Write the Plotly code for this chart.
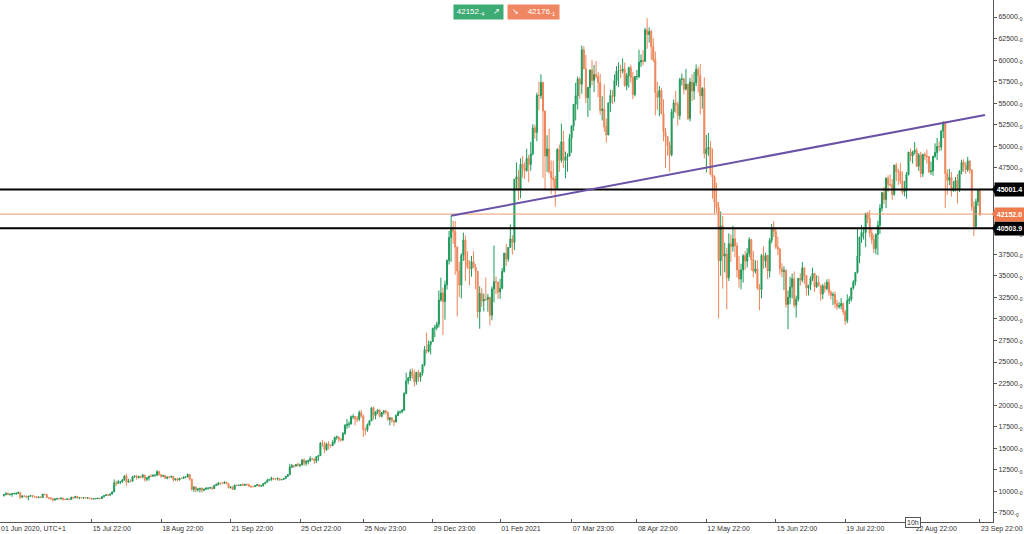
import plotly.graph_objects as go
import pandas as pd

# ---------------- data (daily candles) ----------------
first_open = 9520
close = [
    # Jun 2020 (from Jun 3)
    9660, 9800, 9620, 9670, 9750, 9770, 9780, 9870, 9320, 9480, 9470, 9340, 9430, 9530, 9450, 9380, 9300, 9360,
    9290, 9690, 9630, 9290, 9260, 9160, 9000, 9120, 9190, 9140,
    # Jul 2020
    9230, 9090, 9060, 9130, 9070, 9340, 9250, 9430, 9230, 9290, 9240, 9300, 9240, 9250, 9200, 9130, 9150, 9170,
    9210, 9160, 9390, 9530, 9610, 9550, 9710, 9940, 10980, 10940, 11100, 11110, 11350,
    # Aug 2020
    11800, 11070, 11230, 11190, 11740, 11760, 11600, 11750, 11680, 11880, 11410, 11580, 11780, 11770, 11870, 11910,
    12280, 11950, 11760, 11860, 11520, 11680, 11650, 11750, 11330, 11460, 11320, 11540, 11510, 11680, 11680,
    # Sep 2020
    11970, 11420, 10250, 10510, 10170, 10280, 10370, 10130, 10240, 10360, 10400, 10440, 10320, 10680, 10790, 10950,
    10940, 10930, 11090, 10920, 10420, 10530, 10240, 10740, 10690, 10730, 10770, 10700, 10840, 10780,
    # Oct 2020
    10620, 10570, 10550, 10670, 10790, 10600, 10670, 10920, 11060, 11300, 11380, 11540, 11430, 11430, 11510, 11330,
    11370, 11490, 11740, 11920, 12810, 12990, 12940, 13130, 13030, 13060, 13640, 13280, 13460, 13560, 13800,
    # Nov 2020
    13760, 13550, 14030, 14150, 15590, 15580, 14830, 15480, 15330, 15300, 15700, 16280, 16320, 16070, 15960, 16720,
    17650, 17780, 17820, 18660, 18690, 18420, 18370, 19150, 18730, 17150, 17140, 17720, 18180, 19700,
    # Dec 2020
    18800, 19210, 19440, 18700, 19150, 19360, 19170, 18320, 18550, 18250, 18040, 18800, 19170, 19270, 19440, 21360,
    22800, 23140, 23870, 23480, 22740, 23820, 23240, 23730, 24690, 26440, 26250, 27030, 27370, 28880, 28990,
    # Jan 2021
    29370, 32190, 33000, 31990, 33950, 36770, 39430, 40580, 40150, 38340, 35560, 33920, 37390, 39150, 36820, 36030,
    35820, 36630, 36010, 35530, 30830, 32940, 32080, 32260, 32250, 32510, 30430, 33470, 34320, 34280, 33110,
    # Feb 2021
    33540, 35510, 37620, 36940, 38290, 39260, 38870, 46200, 46480, 44920, 47930, 47500, 47200, 48590, 47910, 49130,
    52150, 51620, 55920, 55890, 57410, 54090, 48880, 49710, 47090, 46340, 46190, 45140,
    # Mar 2021
    49630, 48380, 50540, 48370, 48760, 48880, 50970, 52390, 54880, 55860, 57800, 57220, 61190, 59000, 55640, 56830,
    58870, 57650, 58320, 58100, 57390, 54160, 54340, 52300, 51320, 55040, 55890, 55780, 57600, 58760, 58800,
    # Apr 2021
    58730, 58980, 57060, 58200, 59130, 57990, 56010, 58090, 58100, 59770, 59960, 59840, 63500, 62970, 63310, 61580,
    60070, 56250, 55700, 56480, 53810, 51730, 51140, 50100, 49020, 54020, 55030, 54840, 53560, 57750,
    # May 2021
    57830, 56630, 57210, 53240, 57470, 56430, 57370, 58930, 58240, 55860, 56700, 49150, 49720, 49880, 46760, 46450,
    43540, 42910, 36730, 40780, 37280, 37530, 34770, 38710, 38400, 39300, 38440, 35700, 34620, 35680, 37330,
    # Jun 2021
    36690, 37570, 39190, 36890, 35520, 35800, 33550, 33400, 37350, 36690, 37340, 35550, 39100, 40520, 40140, 38350,
    38090, 35820, 35480, 35600, 31680, 32500, 33690, 34660, 31590, 32280, 34700, 34490, 35910, 35040,
    # Jul 2021
    33570, 33900, 34680, 35290, 33730, 34220, 33860, 32880, 33820, 33510, 34260, 33090, 32730, 32820, 31780, 31420,
    31520, 31780, 30840, 29800, 32130, 32300, 33590, 34290, 35380, 37290, 39460, 40030, 40030, 42230, 41630,
    # Aug 2021
    39970, 39200, 38150, 39750, 40870, 42830, 44640, 43820, 46290, 45590, 45550, 44430, 47830, 47100, 47050, 45990,
    44700, 44800, 46720, 49340, 48900, 49320, 49550, 47700, 48990, 46850, 49070, 48900, 48810, 47050, 47150,
    # Sep 2021
    48850, 49280, 49990, 49920, 51780, 52700, 46860, 46080, 46390, 44850, 45170, 46060, 44960, 47130, 48150, 47760,
    47300, 48310, 47260, 43010, 40700, 43580, 44900, 42152,
]
high = [
    9680, 9860, 9850, 9730, 9800, 9780, 9880, 9990, 9940, 9530, 9490, 9490, 9490, 9580, 9560, 9480, 9440, 9390,
    9420, 9690, 9700, 9670, 9320, 9290, 9190, 9190, 9230, 9200,
    9290, 9260, 9130, 9180, 9140, 9360, 9360, 9450, 9440, 9300, 9300, 9340, 9340, 9280, 9270, 9210, 9190, 9200,
    9240, 9220, 9420, 9540, 9650, 9640, 9730, 10000, 11390, 11240, 11340, 11170, 11420,
    11860, 12060, 11470, 11400, 11780, 11900, 11920, 11800, 11800, 12050, 11940, 11670, 11790, 11990, 11970, 11950,
    12470, 12400, 12020, 11880, 11880, 11690, 11710, 11810, 11760, 11530, 11590, 11550, 11580, 11720, 11780,
    12070, 11980, 11490, 10630, 10560, 10360, 10400, 10440, 10350, 10500, 10400, 10480, 10580, 10770, 10930, 11100,
    11030, 11030, 11170, 11060, 10990, 10560, 10530, 10770, 10760, 10780, 10800, 10950, 10860, 10860,
    10920, 10660, 10600, 10700, 10800, 10800, 10690, 10950, 11110, 11480, 11440, 11710, 11560, 11550, 11620, 11540,
    11400, 11490, 11820, 12030, 13210, 13170, 13020, 13160, 13340, 13220, 13760, 13850, 13640, 13680, 14070,
    13900, 13820, 14050, 14240, 15740, 15960, 15770, 15650, 15830, 15460, 15940, 16320, 16480, 16330, 16130, 16880,
    17800, 18390, 18120, 18800, 18950, 18740, 18750, 19390, 19460, 18900, 17420, 17880, 18260, 19750,
    19860, 19300, 19540, 19490, 19160, 19400, 19410, 19280, 18630, 18560, 18270, 18950, 19390, 19330, 19540, 21500,
    23780, 23280, 24170, 24270, 24100, 23800, 24060, 23790, 24780, 26860, 28400, 27500, 27390, 28990, 29300,
    29680, 33300, 34780, 33620, 34440, 36900, 40200, 41950, 41370, 41350, 38340, 36600, 37600, 40000, 39660, 37850,
    36800, 37300, 37850, 36390, 35530, 33780, 33550, 32940, 34800, 32900, 32520, 33780, 38500, 34900, 34290,
    34640, 35900, 37660, 38700, 38310, 40950, 39700, 46200, 48140, 47260, 48630, 48880, 48150, 49710, 49000, 50530,
    52580, 52500, 56230, 57500, 58350, 57500, 54160, 51300, 52040, 48370, 48300, 46600,
    49790, 50200, 52640, 51800, 49400, 49200, 51430, 52400, 54900, 57390, 58100, 58000, 61700, 61600, 60600, 56900,
    58900, 60000, 59440, 59880, 58600, 58420, 55830, 57200, 53230, 55070, 56570, 56560, 58340, 59300, 59750,
    59460, 60200, 59700, 58500, 59240, 59480, 58650, 58150, 58880, 61200, 60660, 61150, 63740, 64860, 63800, 63520,
    62550, 61000, 57500, 57000, 56750, 55450, 52130, 51160, 50560, 54360, 55450, 56440, 55200, 57940,
    58450, 57940, 58980, 57230, 57940, 58360, 58650, 59500, 59230, 59550, 56870, 58000, 51330, 51560, 50640, 49750,
    46640, 45800, 43550, 42450, 41940, 38830, 38250, 39920, 39770, 40800, 40400, 38860, 37300, 36400, 37500,
    37890, 38200, 39480, 39290, 37900, 36790, 36800, 34070, 37530, 38400, 37690, 37440, 39380, 41000, 41330, 40500,
    39540, 38200, 36450, 36100, 35750, 33300, 34880, 35250, 35500, 32700, 34740, 35300, 36600, 36000,
    35040, 33940, 34950, 35950, 35290, 35050, 35000, 33900, 34070, 34250, 34590, 34670, 33330, 33100, 33190, 32230,
    31950, 32410, 31880, 31060, 32850, 32600, 33620, 34490, 35400, 40550, 39540, 40900, 40640, 42300, 42400,
    42600, 40420, 39780, 39950, 41400, 43300, 44700, 45310, 46450, 46650, 46740, 46220, 47850, 48100, 47390, 48050,
    47100, 46000, 47030, 49350, 49760, 49490, 50500, 49850, 49230, 49370, 49150, 49300, 49630, 48900, 48250,
    48900, 50350, 51000, 50560, 51900, 52920, 52900, 47350, 47400, 47030, 45970, 46450, 46780, 47250, 48450, 48500,
    48150, 48800, 48370, 47330, 43620, 43950, 44960, 45100,
]
low = [
    9400, 9530, 9580, 9530, 9380, 9630, 9570, 9690, 9120, 9260, 9350, 9250, 8980, 9370, 9260, 9280, 9200, 9200,
    9280, 9280, 9600, 9240, 9070, 9040, 8840, 8950, 9040, 9090,
    9080, 8940, 9030, 9050, 8970, 9060, 9210, 9240, 9180, 9110, 9190, 9160, 9200, 9130, 9170, 9010, 9090, 9130,
    9110, 9130, 9150, 9300, 9460, 9500, 9540, 9670, 9930, 10610, 10890, 10850, 10980,
    11230, 10660, 11000, 11020, 11100, 11580, 11360, 11530, 11520, 11520, 11140, 11180, 11270, 11660, 11700, 11690,
    11780, 11830, 11570, 11670, 11500, 11410, 11520, 11590, 11150, 11270, 11140, 11290, 11440, 11470, 11580,
    11640, 11250, 10080, 9950, 9890, 9980, 9880, 9880, 10010, 10200, 10210, 10300, 10220, 10280, 10630, 10700,
    10750, 10820, 10900, 10810, 10360, 10350, 10150, 10210, 10600, 10640, 10620, 10640, 10650, 10690,
    10530, 10390, 10520, 10530, 10630, 10530, 10570, 10580, 10830, 11060, 11260, 11230, 11300, 11310, 11270, 11220,
    11330, 11350, 11430, 11690, 11900, 12730, 12730, 12900, 12890, 12800, 13050, 12950, 12990, 13140, 13430,
    13640, 13210, 13290, 13530, 14100, 15170, 14420, 14710, 14850, 15080, 15280, 15470, 15990, 15710, 15790, 15870,
    16560, 17250, 17380, 17770, 18370, 17670, 18030, 18160, 18540, 16330, 16520, 16900, 17600, 18180,
    18330, 18350, 18950, 18600, 18600, 18920, 18910, 18250, 17650, 17950, 17570, 18020, 18750, 19000, 19050, 19300,
    21260, 22400, 22810, 23080, 22160, 22370, 22700, 22720, 23440, 24500, 25980, 26100, 25880, 27320, 27880,
    28700, 29000, 32000, 28130, 29900, 33400, 36300, 36600, 38720, 35110, 30300, 32530, 32380, 36720, 34410, 35800,
    33890, 34880, 35860, 33420, 30070, 28860, 31400, 30860, 32080, 30840, 29240, 29840, 31920, 32860, 32300,
    32330, 33430, 35380, 36160, 36630, 38220, 37450, 37990, 45000, 43770, 43990, 46370, 46220, 47060, 45850, 47170,
    48960, 50900, 50600, 54190, 55500, 46350, 45000, 47010, 46820, 44450, 45200, 43020,
    45000, 47050, 48100, 47500, 46300, 47070, 48870, 49270, 51800, 53000, 54270, 55510, 56110, 58950, 55000, 53400,
    54150, 57070, 56270, 57830, 55700, 53650, 53000, 51700, 50430, 51320, 53970, 54900, 55140, 57040, 56900,
    57930, 58450, 56900, 56500, 56810, 57400, 55470, 55790, 57700, 57900, 59200, 59400, 59840, 61320, 62030, 60020,
    59760, 53600, 54220, 53500, 53700, 50580, 47500, 48900, 47060, 48840, 53260, 53900, 52400, 53100,
    57050, 56040, 56480, 53050, 52900, 55240, 55400, 56980, 56250, 53700, 54370, 48600, 46980, 48900, 46660, 43960,
    42200, 42300, 30070, 35000, 33520, 35400, 31110, 34400, 36600, 37800, 37170, 34800, 33630, 33430, 34200,
    35700, 35960, 37180, 35600, 34800, 35260, 33400, 31000, 32400, 35800, 35940, 34630, 34800, 38760, 39500, 38130,
    37400, 35150, 34830, 33340, 31300, 28800, 31700, 32370, 31280, 30150, 32000, 33860, 34250, 34050,
    32710, 32700, 33340, 34380, 33140, 33600, 33790, 32100, 32300, 33050, 33330, 32700, 32260, 31600, 31230, 31050,
    31180, 31120, 30470, 29300, 29500, 31720, 32010, 33420, 33880, 35250, 36450, 38810, 39200, 38320, 41100,
    39450, 38700, 37640, 37500, 37400, 39850, 42450, 43300, 42850, 44700, 45360, 43800, 44260, 45980, 45520, 45660,
    44400, 44200, 43950, 46640, 48280, 48000, 49060, 47600, 47160, 46370, 46460, 48400, 48000, 46900, 46700,
    46600, 48650, 48400, 49440, 49500, 50950, 42850, 44400, 45510, 44200, 44750, 44780, 43400, 44700, 46750, 47040,
    46800, 47060, 46870, 42500, 39600, 40570, 43100, 41900,
]

# levels / drawings
level_high = 45001.4
level_low = 40503.9
last_price = 42152.0
bid_text = "42152.<sub>4</sub>"
ask_text = "42176.<sub>1</sub>"
trend_x = ["2021-01-07 22:00", "2021-09-26 09:00"]
trend_y = [41950, 53640]

x_tick_vals = ["2020-06-01 00:00", "2020-07-15 22:00", "2020-08-18 22:00", "2020-09-21 22:00",
               "2020-10-25 22:00", "2020-11-25 23:00", "2020-12-29 23:00", "2021-02-01 00:00",
               "2021-03-07 23:00", "2021-04-08 22:00", "2021-05-12 22:00", "2021-06-15 22:00",
               "2021-07-19 22:00", "2021-08-22 22:00", "2021-09-23 22:00"]
x_tick_text = ["01 Jun 2020, UTC+1", "15 Jul 22:00", "18 Aug 22:00", "21 Sep 22:00", "25 Oct 22:00",
               "25 Nov 23:00", "29 Dec 23:00", "01 Feb 2021", "07 Mar 23:00", "08 Apr 22:00",
               "12 May 22:00", "15 Jun 22:00", "19 Jul 22:00", "22 Aug 22:00", "23 Sep 22:00"]
# 42500 and 45000 are hidden under the price labels in the reference
y_tick_vals = [7500, 10000, 12500, 15000, 17500, 20000, 22500, 25000, 27500, 30000, 32500, 35000,
               37500, 40000, 47500, 50000, 52500, 55000, 57500, 60000, 62500, 65000]
y_tick_text = [f"{v}.<sub>0</sub>" for v in y_tick_vals]

# ---------------- figure ----------------
dates = pd.date_range("2020-06-02 22:00", periods=len(close), freq="D")
opens = [first_open] + close[:-1]
high_c = [max(h, o, c) for h, o, c in zip(high, opens, close)]
low_c = [min(l, o, c) for l, o, c in zip(low, opens, close)]

GREEN = "#1f9a5a"
ORANGE = "#ec8558"
FONT = "Liberation Sans"

fig = go.Figure()
fig.add_trace(go.Candlestick(
    x=dates, open=opens, high=high_c, low=low_c, close=close,
    increasing=dict(line=dict(color=GREEN, width=1), fillcolor=GREEN),
    decreasing=dict(line=dict(color=ORANGE, width=1), fillcolor=ORANGE),
    whiskerwidth=0, hoverinfo="skip", showlegend=False,
))

shapes = [
    dict(type="line", xref="paper", yref="y", x0=0, x1=1, y0=last_price, y1=last_price,
         line=dict(color="#e99a74", width=1)),
    dict(type="line", xref="paper", yref="y", x0=0, x1=1, y0=level_high, y1=level_high,
         line=dict(color="#000000", width=2)),
    dict(type="line", xref="paper", yref="y", x0=0, x1=1, y0=level_low, y1=level_low,
         line=dict(color="#000000", width=2)),
    dict(type="line", xref="x", yref="y", x0=trend_x[0], x1=trend_x[1], y0=trend_y[0], y1=trend_y[1],
         line=dict(color="#6a52a6", width=2)),
]
# small pointers for the right-hand price labels
for lvl, col in [(level_high, "#000000"), (level_low, "#000000"), (last_price, "#f07a4c")]:
    shapes.append(dict(type="path", xref="paper", yref="y", xsizemode="pixel", ysizemode="pixel",
                       xanchor=1, yanchor=lvl, path="M -1 0 L 3 -6 L 3 6 Z",
                       fillcolor=col, line=dict(width=0)))

annotations = []
for lvl, txt, col in [(level_high, "45001.4", "#000000"), (level_low, "40503.9", "#000000"),
                      (last_price, "42152.0", "#f07a4c")]:
    annotations.append(dict(xref="paper", yref="y", x=1, y=lvl, xanchor="left", yanchor="middle",
                            xshift=1, text=f"<b>{txt}</b>", showarrow=False, bgcolor=col,
                            font=dict(color="white", size=7, family=FONT), width=27, height=11,
                            borderpad=1, align="center"))
annotations.append(dict(xref="paper", yref="paper", x=453 / 993, y=1, xanchor="left", yanchor="top",
                        yshift=-4, text=bid_text + "&nbsp;&nbsp;&nbsp;&nbsp;↗", showarrow=False,
                        bgcolor="#3dab74", font=dict(color="white", size=8, family=FONT),
                        width=47, height=12, borderpad=1, align="center"))
annotations.append(dict(xref="paper", yref="paper", x=507 / 993, y=1, xanchor="left", yanchor="top",
                        yshift=-4, text="↘&nbsp;&nbsp;&nbsp;&nbsp;" + ask_text, showarrow=False,
                        bgcolor="#f08763", font=dict(color="white", size=8, family=FONT),
                        width=49, height=12, borderpad=1, align="center"))
annotations.append(dict(xref="paper", yref="paper", x=913 / 993, y=0, xanchor="center", yanchor="middle",
                        text="10h", showarrow=False, bgcolor="white", bordercolor="#555555",
                        borderwidth=1, borderpad=1, font=dict(color="#333333", size=7, family=FONT)))

fig.update_layout(
    width=1024, height=534,
    margin=dict(l=0, r=31, t=0, b=12),
    paper_bgcolor="white", plot_bgcolor="white",
    showlegend=False, hovermode=False,
    font=dict(family=FONT, size=7, color="#333333"),
    shapes=shapes, annotations=annotations,
    xaxis=dict(
        type="date", range=["2020-06-01 00:00", "2021-09-30 07:00"],
        rangeslider=dict(visible=False),
        tickmode="array", tickvals=x_tick_vals, ticktext=x_tick_text,
        ticklabelposition="outside right",
        ticks="inside", ticklen=3, tickcolor="#555555",
        showgrid=False, zeroline=False,
        showline=True, linecolor="#555555", linewidth=1,
        tickfont=dict(size=7, color="#333333", family=FONT),
    ),
    yaxis=dict(
        side="right", range=[6456, 66971],
        tickmode="array", tickvals=y_tick_vals, ticktext=y_tick_text,
        ticks="outside", ticklen=3, tickcolor="#555555",
        showgrid=False, zeroline=False,
        showline=True, linecolor="#555555", linewidth=1,
        tickfont=dict(size=7, color="#333333", family=FONT),
    ),
)

fig.write_html("out.html")
